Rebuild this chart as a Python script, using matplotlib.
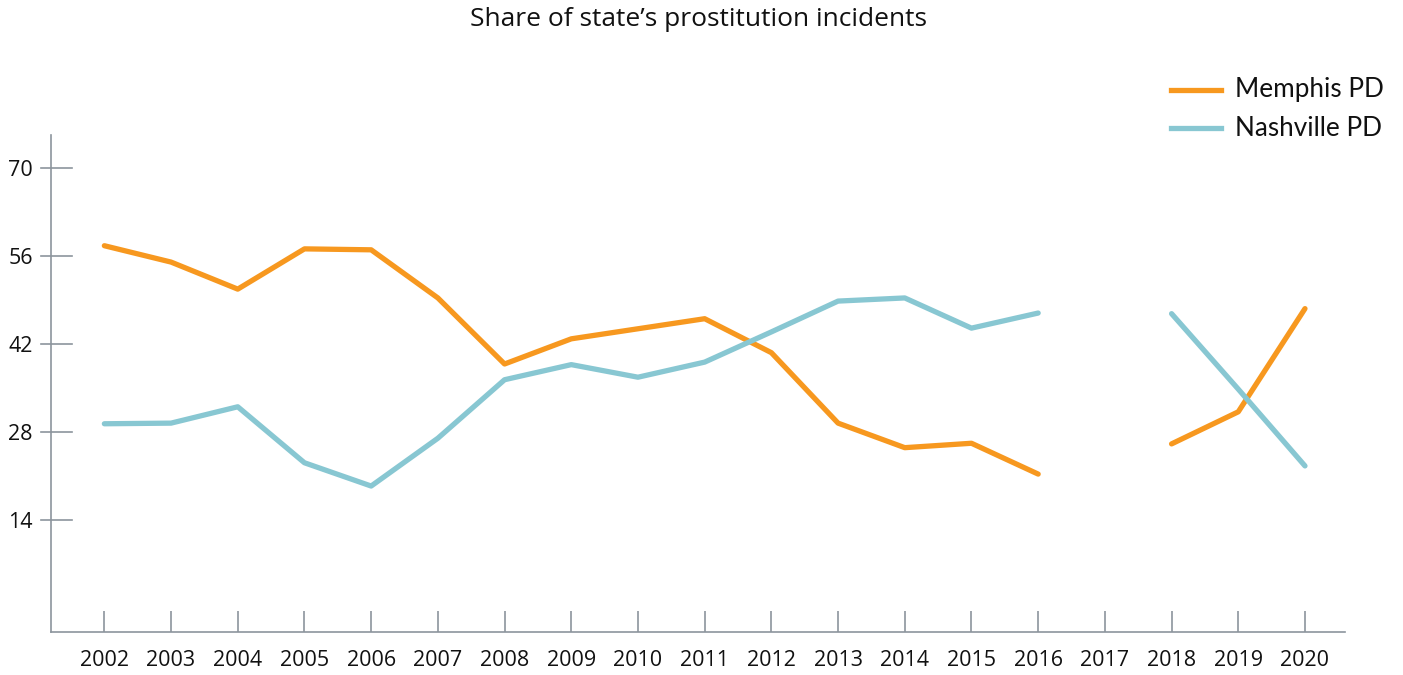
import matplotlib
matplotlib.use("Agg")
import matplotlib.pyplot as plt
from matplotlib.lines import Line2D
import numpy as np

years = list(range(2002, 2021))
memphis = [57.6, 55.0, 50.7, 57.1, 56.95, 49.3, 38.8, 42.8, 44.4, 46.0, 40.6, 29.4, 25.5, 26.2, 21.3, np.nan, 26.1, 31.2, 47.6]
nashville = [29.3, 29.4, 32.0, 23.1, 19.4, 27.0, 36.3, 38.7, 36.7, 39.1, 43.9, 48.8, 49.3, 44.5, 46.9, np.nan, 46.8, 34.8, 22.6]
yticks = [14, 28, 42, 56, 70]
series_names = ["Memphis PD", "Nashville PD"]
title = "Share of state\u2019s prostitution incidents"

orange = "#F7981F"
teal = "#88C7D2"
axc = "#8C959D"
W, H = 1403, 675

fig = plt.figure(figsize=(14.03, 6.75), dpi=100)
ax = fig.add_axes([51/W, 1-632/H, (1345-51)/W, (632-135)/H])
ax.plot(years, memphis, color=orange, lw=3.8, solid_capstyle="round", solid_joinstyle="round")
ax.plot(years, nashville, color=teal, lw=3.8, solid_capstyle="round", solid_joinstyle="round")

ax.set_xlim(2001.2, 2020.6)
ax.set_ylim(-3.8, 75.2)
for s in ["top", "right"]:
    ax.spines[s].set_visible(False)
for s in ["left", "bottom"]:
    ax.spines[s].set_color(axc)
    ax.spines[s].set_linewidth(1.2)

ax.set_xticks(years)
ax.set_xticklabels([str(y) for y in years], fontfamily="Open Sans", fontsize=15.5, color="#111111")
ax.set_yticks(yticks)
ax.set_yticklabels([str(v) for v in yticks], fontfamily="Open Sans", fontsize=15.5, color="#111111")
ax.tick_params(axis="x", direction="in", length=15, width=1.2, color=axc, pad=13)
ax.tick_params(axis="y", length=0, pad=13)
for v in yticks:
    ax.plot([-10/1294, 21/1294], [v, v], transform=ax.get_yaxis_transform(), color=axc, lw=1.2, clip_on=False)

fig.text(698/W, 1-19/H, title, ha="center", va="center", fontfamily="Open Sans", fontsize=19, color="#111111")

for name, col, yy in zip(series_names, [orange, teal], [90, 128]):
    fig.add_artist(Line2D([1171/W, 1221/W], [1-yy/H, 1-yy/H], color=col, lw=3.8, transform=fig.transFigure))
    fig.text(1235/W, 1-yy/H, name, ha="left", va="center", fontfamily="Lato", fontsize=18.8, color="#111111")

fig.savefig("out.png", dpi=100)
